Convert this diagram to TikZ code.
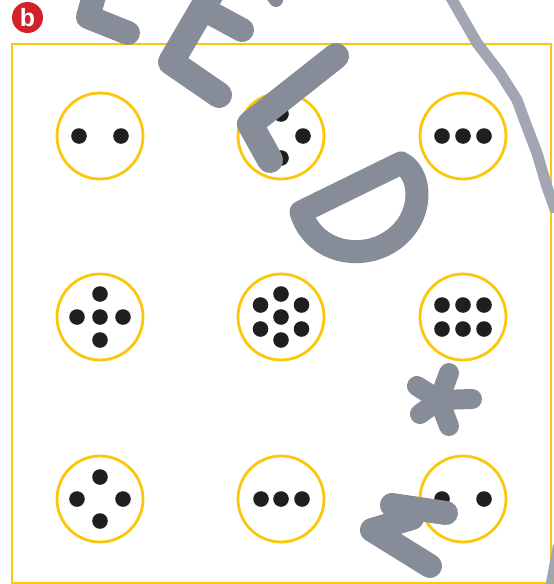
\documentclass[tikz,border=0pt]{standalone}
\usepackage{fontspec}
\setsansfont{Liberation Sans}
\definecolor{ringyellow}{RGB}{252,198,10}
\definecolor{badgered}{RGB}{212,32,44}
\definecolor{graffiti}{RGB}{135,140,153}
\definecolor{speckle}{RGB}{162,166,178}

\begin{document}
\begin{tikzpicture}[x=1pt, y=-1pt,
  ring/.style={circle, draw=ringyellow, line width=2.8pt, minimum size=86pt, inner sep=0pt},
  dot/.style={fill=black!88},
  spray/.style={draw=graffiti, line width=26pt, line cap=round, line join=round}]

  \useasboundingbox (0,0) rectangle (554,584);

  % --- 1. ラベル b と枠 ---
  \node[circle, fill=badgered, minimum size=31pt, inner sep=0pt, text=white,
        font=\sffamily\bfseries\fontsize{25}{25}\selectfont] (badge) at (27.5,17.5) {b};
  \draw[ringyellow, line width=2.3pt] (12,44) rectangle (551,583);

  % --- 2. 黄色の円 (3 x 3) ---
  \node[ring] (r11) at (100,136) {};
  \node[ring] (r12) at (281,136) {};
  \node[ring] (r13) at (463,136) {};
  \node[ring] (r21) at (100,317) {};
  \node[ring] (r22) at (281,317) {};
  \node[ring] (r23) at (463,317) {};
  \node[ring] (r31) at (100,499) {};
  \node[ring] (r32) at (281,499) {};
  \node[ring] (r33) at (463,499) {};

  % --- 3. 黒丸 ---
  \foreach \dx/\dy in {-21/0, 21/0}
    \fill[dot] ([shift={(\dx,\dy)}]r11.center) circle (7.8pt);
  \foreach \dx/\dy in {0/-22, 22/0, 0/22, -22/0}
    \fill[dot] ([shift={(\dx,\dy)}]r12.center) circle (7.8pt);
  \foreach \dx/\dy in {-21/0, 0/0, 21/0}
    \fill[dot] ([shift={(\dx,\dy)}]r13.center) circle (7.8pt);
  \foreach \dx/\dy in {0/0, -23/0, 23/0, 0/-23, 0/23}
    \fill[dot] ([shift={(\dx,\dy)}]r21.center) circle (7.8pt);
  \foreach \dx/\dy in {0/-23, -20.5/-12, 20.5/-12, 0/0, -20.5/12, 20.5/12, 0/23}
    \fill[dot] ([shift={(\dx,\dy)}]r22.center) circle (7.8pt);
  \foreach \dx/\dy in {-21/-12, 0/-12, 21/-12, -21/12, 0/12, 21/12}
    \fill[dot] ([shift={(\dx,\dy)}]r23.center) circle (7.8pt);
  \foreach \dx/\dy in {0/-22, -23/0, 23/0, 0/22}
    \fill[dot] ([shift={(\dx,\dy)}]r31.center) circle (7.8pt);
  \foreach \dx/\dy in {-20/0, 0/0, 21/0}
    \fill[dot] ([shift={(\dx,\dy)}]r32.center) circle (7.8pt);
  \foreach \dx/\dy in {-21/0, 21/0}
    \fill[dot] ([shift={(\dx,\dy)}]r33.center) circle (7.8pt);

  % --- 4. 落書き (灰色の太線) ---
  % F の断片
  \draw[spray, line width=24pt] (94,-4) -- (88,17) -- (128,33);
  % E
  \draw[spray] (212,-8) -- (171,62) -- (219,95);
  \draw[spray, line width=24pt] (205,10) -- (242,30);
  \draw[spray, line width=14pt] (270,-8) -- (276,0);
  % L
  \draw[spray] (336,56) -- (250,124) -- (270,160);
  % D
  \draw[spray, line width=23pt] (301,212) -- (401,163) .. controls (425,175) and (425,228) .. (380,247)
    .. controls (350,259) and (312,248) .. (301,212) -- cycle;
  % 星印
  \fill[graffiti] (439,400) circle (14pt);
  \foreach \ax/\ay in {449/373, 417/386, 420/414, 449/426, 472/399}
    \draw[spray, line width=20pt] (439,400) -- (\ax,\ay);
  % W
  \draw[spray, line width=24pt] (446,513) -- (392,505) -- (412,518) -- (372,530) -- (430,566);

  % --- 5. 右側のかすれ線 ---
  \draw[speckle, line width=11pt, line join=round]
    (450,-4) -- (477,43) -- (500,73) -- (517,100) -- (527,127) -- (537,153) -- (547,187) -- (556,212);
  \draw[speckle, line width=8pt] (557,545) -- (549,588);

\end{tikzpicture}
\end{document}
